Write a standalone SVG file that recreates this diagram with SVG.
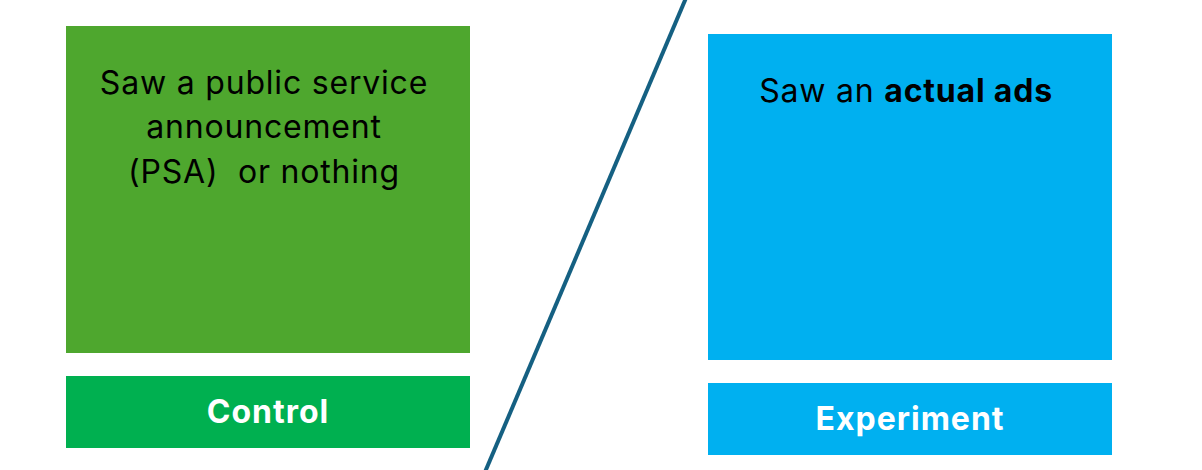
<svg xmlns="http://www.w3.org/2000/svg" width="1202" height="470" viewBox="0 0 1202 470">
<style>
.t{font-family:"Inter","Liberation Sans",sans-serif;font-size:32px;letter-spacing:0.8px;fill:#000;text-anchor:middle;white-space:pre}
.lbl{font-family:"Inter","Liberation Sans",sans-serif;font-size:32px;letter-spacing:1px;font-weight:bold;fill:#fff;text-anchor:middle}
</style>
<rect width="1202" height="470" fill="#fff"/>
<g id="control-desc">
<rect x="66" y="26" width="404" height="327" fill="#4EA72E"/>
<text class="t" x="264" y="94">Saw a public service</text>
<text class="t" x="264" y="138">announcement</text>
<text class="t" x="264" y="183" xml:space="preserve">(PSA)  or nothing</text>
</g>
<g id="control">
<rect x="66" y="376" width="404" height="72" fill="#00B050"/>
<text class="lbl" x="268" y="423">Control</text>
</g>
<g id="experiment-desc">
<rect x="708" y="34" width="404" height="326" fill="#00B0F0"/>
<text class="t" x="906" y="102">Saw an <tspan font-weight="bold">actual ads</tspan></text>
</g>
<g id="experiment">
<rect x="708" y="383" width="404" height="72" fill="#00B0F0"/>
<text class="lbl" x="910" y="430">Experiment</text>
</g>
<g id="connectors">
<line x1="686" y1="-2" x2="485" y2="472" stroke="#156082" stroke-width="4"/>
</g>
</svg>
